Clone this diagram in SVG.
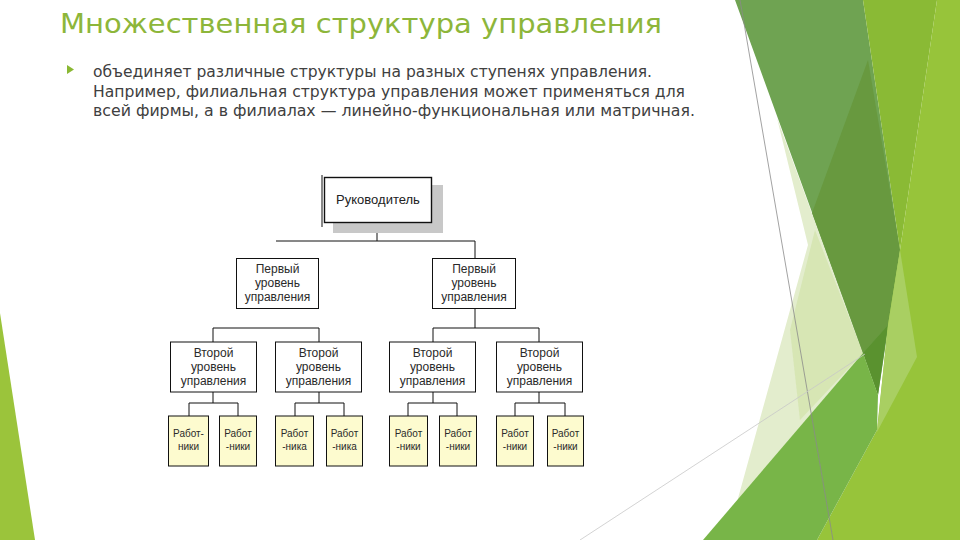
<svg xmlns="http://www.w3.org/2000/svg" width="960" height="540" viewBox="0 0 960 540">
<style>
.title{font-family:"DejaVu Sans","Liberation Sans",sans-serif;font-size:27px;fill:#8db63a}
.body{font-family:"DejaVu Sans","Liberation Sans",sans-serif;font-size:16px;fill:#404040}
.box{fill:#fff;stroke:#111;stroke-width:1}
.wbox{fill:#fdfbcf;stroke:#111;stroke-width:1}
.lbl{font-family:"Liberation Sans",Arial,sans-serif;font-size:12px;fill:#2a2a2a;text-anchor:middle}
.wl{font-family:"Liberation Sans",Arial,sans-serif;font-size:10px;fill:#2a2a2a;text-anchor:middle}
.conn line{stroke:#111;stroke-width:1}
</style>
<rect width="960" height="540" fill="#fff"/>
<g id="decor">
<polygon points="0,313 35,540 0,540" fill="#9bc43b"/>
<polygon points="777,118 808,245 737,502 863,353" fill="#e3edcd"/>
<polygon points="815,230 863,353 800,420 790,330" fill="#cfe1a3" opacity="0.6"/>
<polygon points="735,0 863,0 900,250 878,395 863,353" fill="#6fa352"/>
<polygon points="868,60 812,213 863,353 888,325 900,250" fill="#68993f"/>
<polygon points="863,353 888,325 878,395" fill="#5a922f"/>
<polygon points="863,0 937,0 900,250" fill="#8aba35"/>
<polygon points="937,0 960,0 960,540 817,540 877,430 888,325 900,250" fill="#97c43a"/>
<polygon points="900,250 917,357 877,432 888,325" fill="#a9cf62"/>
<polygon points="703,540 863,353 878,395 877,430 817,540" fill="#78b548"/>
<line x1="740" y1="0" x2="833" y2="540" stroke="#8a8a8a" stroke-width="0.8"/>
<line x1="580" y1="540" x2="865" y2="354" stroke="#c8c8c8" stroke-width="0.8"/>
</g>
<g id="header">
<text class="title" x="60" y="33" textLength="602" lengthAdjust="spacingAndGlyphs">Множественная структура управления</text>
<polygon points="67,65 74,69.5 67,74" fill="#8ab833"/>
<text class="body" x="93" y="77" textLength="559" lengthAdjust="spacingAndGlyphs">объединяет различные структуры на разных ступенях управления.</text>
<text class="body" x="93" y="96.5" textLength="592" lengthAdjust="spacingAndGlyphs">Например, филиальная структура управления может применяться для</text>
<text class="body" x="93" y="116" textLength="602" lengthAdjust="spacingAndGlyphs">всей фирмы, а в филиалах — линейно-функциональная или матричная.</text>
</g>
<g class="conn" id="connectors">
<line x1="377" y1="223" x2="377" y2="241"/>
<line x1="276" y1="241" x2="475" y2="241"/>
<line x1="475" y1="241" x2="475" y2="258"/>
<line x1="475" y1="308" x2="475" y2="328"/>
<line x1="213" y1="328" x2="319" y2="328"/>
<line x1="213" y1="328" x2="213" y2="342"/>
<line x1="319" y1="328" x2="319" y2="342"/>
<line x1="433" y1="328" x2="539" y2="328"/>
<line x1="433" y1="328" x2="433" y2="342"/>
<line x1="539" y1="328" x2="539" y2="342"/>
<line x1="213" y1="392" x2="213" y2="403"/>
<line x1="319" y1="392" x2="319" y2="403"/>
<line x1="433" y1="392" x2="433" y2="403"/>
<line x1="539" y1="392" x2="539" y2="403"/>
<line x1="189" y1="403" x2="238" y2="403"/>
<line x1="189" y1="403" x2="189" y2="416"/>
<line x1="238" y1="403" x2="238" y2="416"/>
<line x1="295" y1="403" x2="344" y2="403"/>
<line x1="295" y1="403" x2="295" y2="416"/>
<line x1="344" y1="403" x2="344" y2="416"/>
<line x1="408" y1="403" x2="457" y2="403"/>
<line x1="408" y1="403" x2="408" y2="416"/>
<line x1="457" y1="403" x2="457" y2="416"/>
<line x1="515" y1="403" x2="565" y2="403"/>
<line x1="515" y1="403" x2="515" y2="416"/>
<line x1="565" y1="403" x2="565" y2="416"/>
</g>
<g id="head">
<rect x="333" y="185" width="110" height="48" fill="#c8c8c8"/>
<rect x="324.5" y="177.5" width="107" height="45" fill="#fff" stroke="#111" stroke-width="1.4"/>
<line x1="322" y1="175" x2="322" y2="227" stroke="#111" stroke-width="1"/>
<text x="378" y="204" font-family="Liberation Sans, Arial, sans-serif" font-size="13" fill="#222" text-anchor="middle">Руководитель</text>
</g>
<g id="l1a"><rect class="box" x="236.5" y="258.5" width="82" height="50"/>
<text class="lbl" x="277.5" y="273">Первый</text><text class="lbl" x="277.5" y="287">уровень</text><text class="lbl" x="277.5" y="301">управления</text></g>
<g id="l1b"><rect class="box" x="432.5" y="258.5" width="83" height="50"/>
<text class="lbl" x="474" y="273">Первый</text><text class="lbl" x="474" y="287">уровень</text><text class="lbl" x="474" y="301">управления</text></g>
<g id="l2a"><rect class="box" x="170.5" y="342" width="86" height="50"/>
<text class="lbl" x="213.5" y="357">Второй</text><text class="lbl" x="213.5" y="371">уровень</text><text class="lbl" x="213.5" y="385">управления</text></g>
<g id="l2b"><rect class="box" x="275.5" y="342" width="86" height="50"/>
<text class="lbl" x="318.5" y="357">Второй</text><text class="lbl" x="318.5" y="371">уровень</text><text class="lbl" x="318.5" y="385">управления</text></g>
<g id="l2c"><rect class="box" x="389.5" y="342" width="86" height="50"/>
<text class="lbl" x="432.5" y="357">Второй</text><text class="lbl" x="432.5" y="371">уровень</text><text class="lbl" x="432.5" y="385">управления</text></g>
<g id="l2d"><rect class="box" x="496.5" y="342" width="86" height="50"/>
<text class="lbl" x="539.5" y="357">Второй</text><text class="lbl" x="539.5" y="371">уровень</text><text class="lbl" x="539.5" y="385">управления</text></g>
<g id="w1"><rect class="wbox" x="168.5" y="416" width="40" height="50"/><text class="wl" x="188.5" y="437">Работ-</text><text class="wl" x="188.5" y="450">ники</text></g>
<g id="w2"><rect class="wbox" x="219.5" y="416" width="37" height="50"/><text class="wl" x="238" y="437">Работ</text><text class="wl" x="238" y="450">-ники</text></g>
<g id="w3"><rect class="wbox" x="275.5" y="416" width="38" height="50"/><text class="wl" x="294.5" y="437">Работ</text><text class="wl" x="294.5" y="450">-ника</text></g>
<g id="w4"><rect class="wbox" x="326.5" y="416" width="36" height="50"/><text class="wl" x="344.5" y="437">Работ</text><text class="wl" x="344.5" y="450">-ника</text></g>
<g id="w5"><rect class="wbox" x="389.5" y="416" width="38" height="50"/><text class="wl" x="408.5" y="437">Работ</text><text class="wl" x="408.5" y="450">-ники</text></g>
<g id="w6"><rect class="wbox" x="439.5" y="416" width="37" height="50"/><text class="wl" x="458" y="437">Работ</text><text class="wl" x="458" y="450">-ники</text></g>
<g id="w7"><rect class="wbox" x="496.5" y="416" width="37" height="50"/><text class="wl" x="515" y="437">Работ</text><text class="wl" x="515" y="450">-ники</text></g>
<g id="w8"><rect class="wbox" x="547.5" y="416" width="36" height="50"/><text class="wl" x="565.5" y="437">Работ</text><text class="wl" x="565.5" y="450">-ники</text></g>
</svg>
